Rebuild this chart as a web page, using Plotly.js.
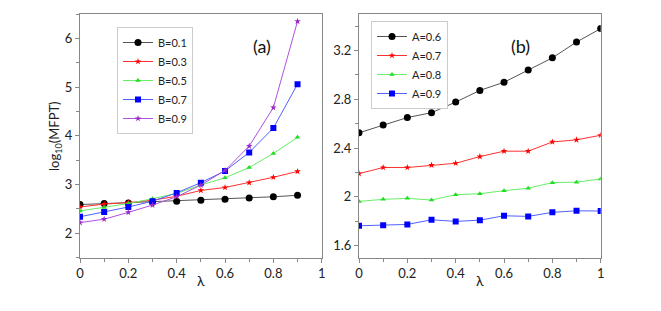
<!DOCTYPE html>
<html>
<head>
<meta charset="utf-8">
<script src="https://cdn.plot.ly/plotly-3.0.1.min.js"></script>
<style>html,body{margin:0;padding:0;background:#fff;}#chart{width:661px;height:311px;}</style>
</head>
<body>
<div id="chart"></div>
<script>
const lambdaA = [0, 0.1, 0.2, 0.3, 0.4, 0.5, 0.6, 0.7, 0.8, 0.9];
const lambdaB = [0, 0.1, 0.2, 0.3, 0.4, 0.5, 0.6, 0.7, 0.8, 0.9, 1.0];

const namesA = ['B=0.1', 'B=0.3', 'B=0.5', 'B=0.7', 'B=0.9'];
const b01 = [2.59, 2.61, 2.62, 2.64, 2.66, 2.68, 2.70, 2.725, 2.75, 2.78];
const b03 = [2.54, 2.60, 2.63, 2.68, 2.76, 2.88, 2.94, 3.04, 3.15, 3.27];
const b05 = [2.46, 2.53, 2.61, 2.71, 2.82, 2.99, 3.14, 3.35, 3.64, 3.97];
const b07 = [2.34, 2.44, 2.54, 2.66, 2.83, 3.04, 3.28, 3.66, 4.16, 5.06];
const b09 = [2.22, 2.29, 2.43, 2.58, 2.75, 2.99, 3.29, 3.79, 4.58, 6.35];

const namesB = ['A=0.6', 'A=0.7', 'A=0.8', 'A=0.9'];
const a06 = [2.525, 2.59, 2.65, 2.69, 2.777, 2.873, 2.94, 3.04, 3.14, 3.27, 3.38];
const a07 = [2.19, 2.24, 2.24, 2.26, 2.275, 2.33, 2.374, 2.374, 2.45, 2.467, 2.505];
const a08 = [1.962, 1.979, 1.987, 1.973, 2.017, 2.025, 2.05, 2.07, 2.116, 2.12, 2.146];
const a09 = [1.762, 1.767, 1.773, 1.811, 1.798, 1.808, 1.844, 1.839, 1.872, 1.885, 1.883];

const xTickVals = [0, 0.2, 0.4, 0.6, 0.8, 1];
const xTickText = ['0', '0.2', '0.4', '0.6', '0.8', '1'];
const yTickValsA = [2, 3, 4, 5, 6];
const yTickValsB = [1.6, 2.0, 2.4, 2.8, 3.2];
const yTickTextB = ['1.6', '2', '2.4', '2.8', '3.2'];

const styles = [
  {line: '#555555', marker: '#000000', symbol: 'circle', size: 7},
  {line: '#ff3030', marker: '#ff0000', symbol: 'star', size: 5},
  {line: '#66ee66', marker: '#22dd22', symbol: 'triangle-up', size: 5},
  {line: '#5060ff', marker: '#0000ff', symbol: 'square', size: 6},
  {line: '#b050e0', marker: '#9a28c8', symbol: 'star', size: 5}
];
const stylesB = [styles[0], styles[1], styles[2], styles[3]];

const seriesA = [b01, b03, b05, b07, b09];
const seriesB = [a06, a07, a08, a09];

const traces = [];
seriesA.forEach((ys, i) => {
  const s = styles[i];
  traces.push({x: lambdaA, y: ys, name: namesA[i], type: 'scatter', mode: 'lines+markers',
    xaxis: 'x', yaxis: 'y', legend: 'legend',
    line: {color: s.line, width: 1}, marker: {color: s.marker, symbol: s.symbol, size: s.size}});
});
seriesB.forEach((ys, i) => {
  const s = stylesB[i];
  traces.push({x: lambdaB, y: ys, name: namesB[i], type: 'scatter', mode: 'lines+markers',
    xaxis: 'x2', yaxis: 'y2', legend: 'legend2',
    line: {color: s.line, width: 1}, marker: {color: s.marker, symbol: s.symbol, size: s.size}});
});

const fam = 'Lato, "Open Sans", sans-serif';
const font = {family: fam, size: 13, color: '#222'};
const axCommon = {
  showgrid: false, zeroline: false, showline: true, linecolor: '#888', linewidth: 1,
  mirror: true, ticks: 'outside', ticklen: 4, tickcolor: '#888', tickwidth: 1,
  tickfont: font,
  minor: {ticks: 'outside', ticklen: 3, tickcolor: '#888', tickwidth: 1}
};
const ydom = [1 - 257.7/311, 1 - 14/311];

const layout = {
  width: 661, height: 311,
  margin: {l: 0, r: 0, t: 0, b: 0},
  paper_bgcolor: '#fff', plot_bgcolor: '#fff',
  font: font,
  showlegend: true,
  xaxis: Object.assign({}, axCommon, {domain: [80/661, 321.7/661], range: [0, 1],
    tickvals: xTickVals, ticktext: xTickText, minor: Object.assign({}, axCommon.minor, {dtick: 0.1, tick0: 0})}),
  yaxis: Object.assign({}, axCommon, {domain: ydom, range: [1.5, 6.5],
    tickvals: yTickValsA, minor: Object.assign({}, axCommon.minor, {dtick: 0.5, tick0: 0})}),
  xaxis2: Object.assign({}, axCommon, {domain: [359/661, 600.7/661], range: [0, 1], anchor: 'y2',
    tickvals: xTickVals, ticktext: xTickText, minor: Object.assign({}, axCommon.minor, {dtick: 0.1, tick0: 0})}),
  yaxis2: Object.assign({}, axCommon, {domain: ydom, range: [1.5, 3.5], anchor: 'x2',
    tickvals: yTickValsB, ticktext: yTickTextB, minor: Object.assign({}, axCommon.minor, {dtick: 0.2, tick0: 0})}),
  legend: {x: 117/661, y: 1 - 27/311, xanchor: 'left', yanchor: 'top',
    bgcolor: '#fff', bordercolor: '#ccc', borderwidth: 1,
    font: {family: fam, size: 11, color: '#222'}, itemwidth: 30, tracegroupgap: 0},
  legend2: {x: 371/661, y: 1 - 21/311, xanchor: 'left', yanchor: 'top',
    bgcolor: '#fff', bordercolor: '#ccc', borderwidth: 1,
    font: {family: fam, size: 11, color: '#222'}, itemwidth: 30, tracegroupgap: 0},
  annotations: [
    {text: '(a)', xref: 'paper', yref: 'paper', x: 262/661, y: 1 - 33/311, showarrow: false,
      font: {family: fam, size: 18, color: '#111'}},
    {text: '(b)', xref: 'paper', yref: 'paper', x: 532/661, y: 1 - 33/311, showarrow: false,
      font: {family: fam, size: 18, color: '#111'}},
    {text: 'log<sub>10</sub>(MFPT)', xref: 'paper', yref: 'paper', x: 55/661, y: 1 - 136/311,
      xanchor: 'center', yanchor: 'middle',
      textangle: -90, showarrow: false, font: {family: fam, size: 13, color: '#222'}},
    {text: 'λ', xref: 'x', yref: 'paper', x: 0.5, y: 1 - 291/311, showarrow: false,
      font: {family: fam, size: 14, color: '#222'}},
    {text: 'λ', xref: 'x2', yref: 'paper', x: 0.5, y: 1 - 291/311, showarrow: false,
      font: {family: fam, size: 14, color: '#222'}}
  ]
};

Plotly.newPlot('chart', traces, layout, {displayModeBar: false, staticPlot: true}).then(() => {
  // nothing
});
</script>
</body>
</html>
